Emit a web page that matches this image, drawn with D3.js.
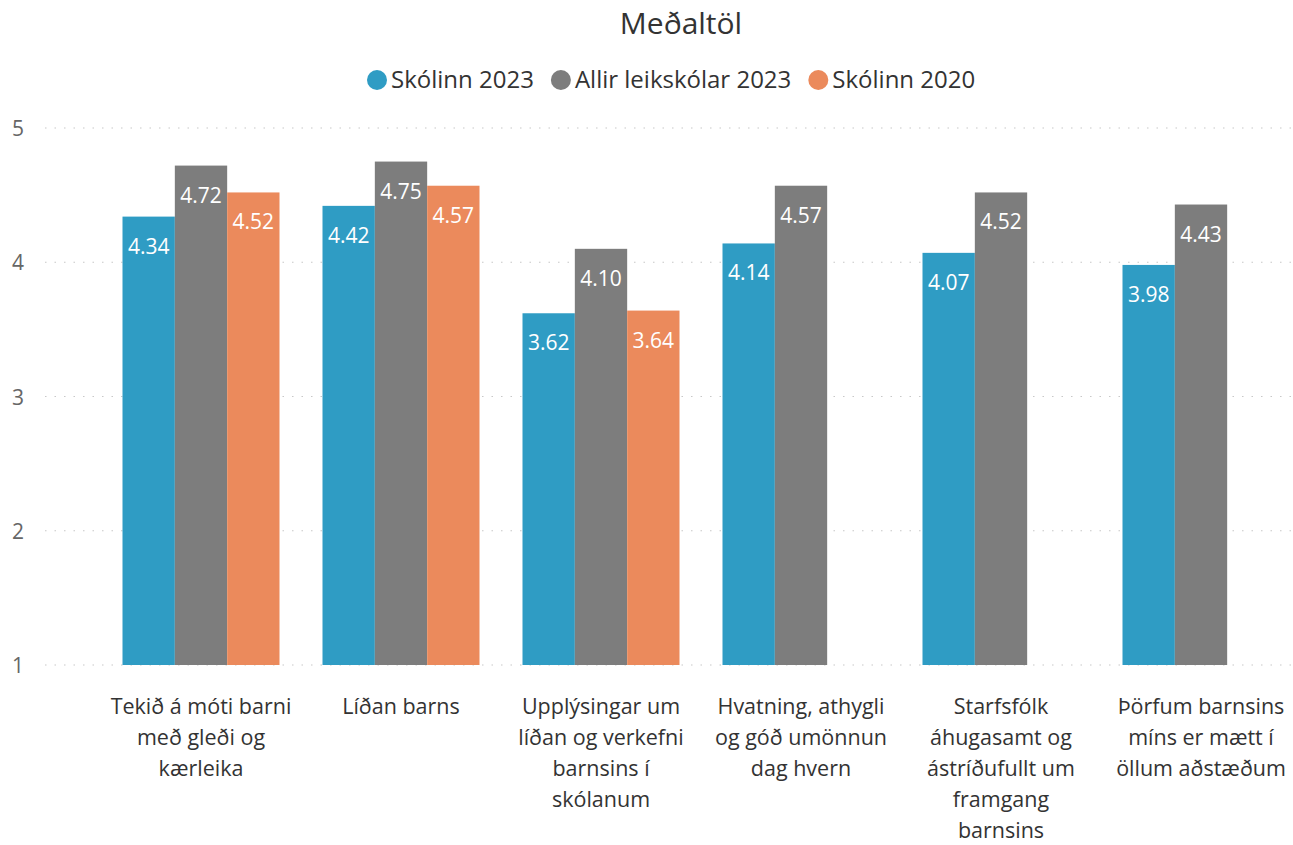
<!DOCTYPE html>
<html>
<head>
<meta charset="utf-8">
<script src="https://cdn.jsdelivr.net/npm/d3@7"></script>
<style>
  body { margin: 0; background: #fff; }
  svg text { font-family: "Open Sans", "Noto Sans", sans-serif; }
</style>
</head>
<body>
<div id="chart"></div>
<script>
// Gögn lesin af myndinni
const categories = [
    "Tekið á móti barni\nmeð gleði og\nkærleika",
    "Líðan barns",
    "Upplýsingar um\nlíðan og verkefni\nbarnsins í\nskólanum",
    "Hvatning, athygli\nog góð umönnun\ndag hvern",
    "Starfsfólk\náhugasamt og\nástríðufullt um\nframgang\nbarnsins",
    "Þörfum barnsins\nmíns er mætt í\nöllum aðstæðum"
];
const seriesNames = ["Skólinn 2023", "Allir leikskólar 2023", "Skólinn 2020"];
const skolinn2023 = [4.34, 4.42, 3.62, 4.14, 4.07, 3.98];
const allir2023 = [4.72, 4.75, 4.10, 4.57, 4.52, 4.43];
const skolinn2020 = [4.52, 4.57, 3.64, null, null, null];
const yTicks = [1, 2, 3, 4, 5];
const colors = ["#2f9cc4", "#7d7d7d", "#eb8a5c"];

const width = 1293, height = 845;
const svg = d3.select("#chart").append("svg")
    .attr("width", width)
    .attr("height", height);

const x0 = d3.scaleBand().domain(d3.range(categories.length))
    .range([101, 1301]).paddingInner(0.215).paddingOuter(0.1075);
const x1 = d3.scaleBand().domain(d3.range(3)).range([0, x0.bandwidth()]);
const y = d3.scaleLinear().domain([1, 5]).range([665, 128]);

// Titill
svg.append("text")
    .attr("x", 681).attr("y", 34)
    .attr("text-anchor", "middle")
    .attr("font-size", "30px")
    .attr("fill", "#333")
    .text("Meðaltöl");

// Skýringar
const legend = svg.append("g");
let lx = 367;
seriesNames.forEach((name, i) => {
    legend.append("circle").attr("cx", lx + 10).attr("cy", 80).attr("r", 10).attr("fill", colors[i]);
    const t = legend.append("text")
        .attr("x", lx + 24).attr("y", 88)
        .attr("font-size", "24px")
        .attr("fill", "#333")
        .text(name);
    lx += 24 + t.node().getComputedTextLength() + 17;
});

// Y-ás og hnitanet
const grid = svg.append("g");
yTicks.forEach(t => {
    grid.append("line")
        .attr("x1", 45).attr("x2", 1293)
        .attr("y1", y(t)).attr("y2", y(t))
        .attr("stroke", "#c8c8c8")
        .attr("stroke-width", 1.2)
        .attr("stroke-dasharray", "1.5,8");
    grid.append("text")
        .attr("x", 12).attr("y", y(t) + 8)
        .attr("font-size", "21px")
        .attr("fill", "#666")
        .text(t);
});

// Súlur
const allSeries = [skolinn2023, allir2023, skolinn2020];
const bars = [];
allSeries.forEach((vals, s) => {
    vals.forEach((v, i) => {
        if (v !== null) bars.push({ s, i, v });
    });
});

svg.append("g").selectAll("rect")
    .data(bars)
    .enter()
    .append("rect")
    .attr("x", d => x0(d.i) + x1(d.s))
    .attr("y", d => y(d.v))
    .attr("width", x1.bandwidth())
    .attr("height", d => y(1) - y(d.v))
    .attr("fill", d => colors[d.s]);

svg.append("g").selectAll("text")
    .data(bars)
    .enter()
    .append("text")
    .attr("x", d => x0(d.i) + x1(d.s) + x1.bandwidth() / 2)
    .attr("y", d => y(d.v) + 37)
    .attr("text-anchor", "middle")
    .attr("font-size", "21px")
    .attr("fill", "#fff")
    .text(d => d.v.toFixed(2));

// Flokkaheiti
const xl = svg.append("g");
categories.forEach((c, i) => {
    const t = xl.append("text")
        .attr("x", x0(i) + x0.bandwidth() / 2)
        .attr("y", 714)
        .attr("text-anchor", "middle")
        .attr("font-size", "21.5px")
        .attr("fill", "#333");
    c.split("\n").forEach((line, k) => {
        t.append("tspan")
            .attr("x", x0(i) + x0.bandwidth() / 2)
            .attr("dy", k === 0 ? 0 : 31)
            .text(line);
    });
});
</script>
</body>
</html>
